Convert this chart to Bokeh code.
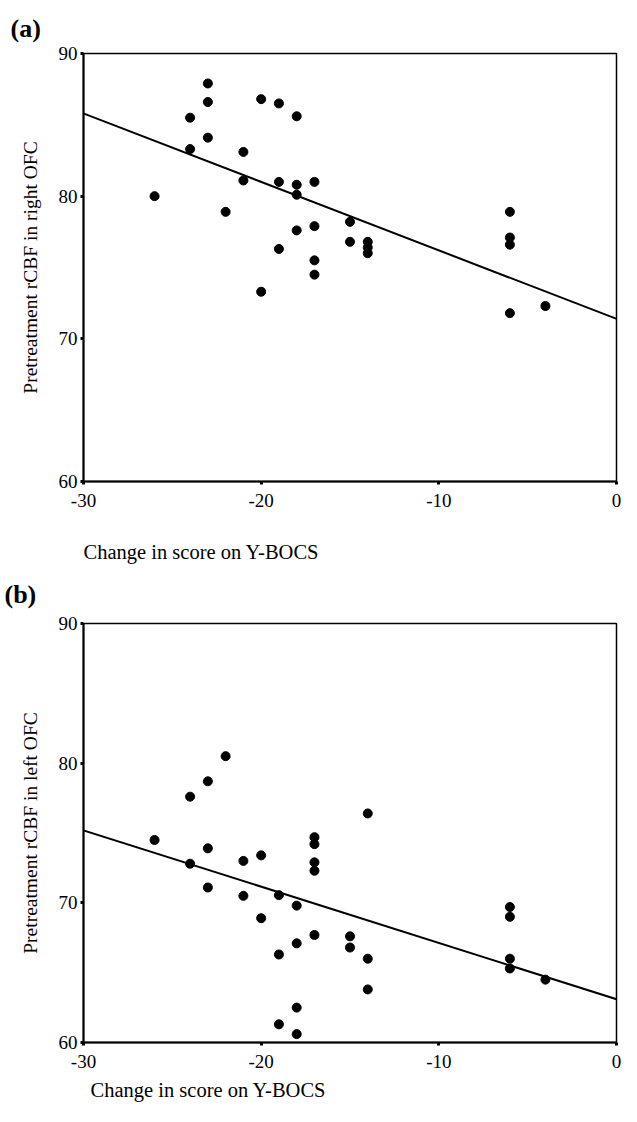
from bokeh.plotting import figure
from bokeh.layouts import column
from bokeh.models import FixedTicker, Slope, Range1d, Title
from bokeh.embed import file_html
from bokeh.resources import INLINE

# ---- data ----
X_TICKS = [-30, -20, -10, 0]
X_TICK_LABELS = ["-30", "-20", "-10", "0"]
Y_TICKS = [60, 70, 80, 90]
Y_TICK_LABELS = ["60", "70", "80", "90"]

A_X = [-26, -24, -24, -23, -23, -23, -22, -21, -21, -20, -20, -19, -19, -19,
       -18, -18, -18, -18, -17, -17, -17, -17, -15, -15, -14, -14, -14,
       -6, -6, -6, -6, -4]
A_Y = [80.0, 85.5, 83.3, 87.9, 86.6, 84.1, 78.9, 83.1, 81.1, 86.8, 73.3, 86.5, 81.0, 76.3,
       85.6, 80.8, 80.1, 77.6, 81.0, 77.9, 75.5, 74.5, 78.2, 76.8, 76.8, 76.4, 76.0,
       78.9, 77.1, 76.6, 71.8, 72.3]
A_FIT_INTERCEPT = 71.4
A_FIT_SLOPE = -0.48

B_X = [-26, -24, -24, -23, -23, -23, -22, -21, -21, -20, -20, -19, -19, -19,
       -18, -18, -18, -18, -17, -17, -17, -17, -17, -15, -15, -14, -14, -14,
       -6, -6, -6, -6, -4]
B_Y = [74.5, 77.6, 72.8, 78.7, 73.9, 71.1, 80.5, 73.0, 70.5, 73.4, 68.9, 70.55, 66.3, 61.3,
       69.8, 67.1, 62.5, 60.6, 74.7, 74.2, 72.9, 72.3, 67.7, 67.6, 66.8, 76.4, 66.0, 63.8,
       69.7, 69.0, 66.0, 65.3, 64.5]
B_FIT_INTERCEPT = 63.1
B_FIT_SLOPE = -0.403

X_LABEL = "Change in score on Y-BOCS"
A_Y_LABEL = "Pretreatment rCBF in right OFC"
B_Y_LABEL = "Pretreatment rCBF in left OFC"

FONT = "Liberation Serif"


def make_title(text, size, style, offset, standoff):
    return Title(text=text, align="left", offset=offset, standoff=standoff,
                 text_font=FONT, text_font_size=size, text_font_style=style,
                 text_color="black")


def make_panel(xs, ys, intercept, slope, ylabel, width, height, borders,
               above_titles, below_titles):
    bt, bb, bl, br = borders
    p = figure(width=width, height=height, output_backend="svg", toolbar_location=None,
               x_range=Range1d(-30, 0), y_range=Range1d(60, 90),
               min_border_top=bt, min_border_bottom=bb, min_border_left=bl,
               min_border_right=br, background_fill_color="white",
               border_fill_color="white")
    p.grid.visible = False
    p.outline_line_color = "black"
    p.outline_line_width = 1.5
    p.outline_line_alpha = 1.0

    for ax, ticks, labels in ((p.xaxis[0], X_TICKS, X_TICK_LABELS),
                              (p.yaxis[0], Y_TICKS, Y_TICK_LABELS)):
        ax.ticker = FixedTicker(ticks=ticks)
        ax.major_label_overrides = {t: l for t, l in zip(ticks, labels)}
        ax.axis_line_width = 2
        ax.axis_line_color = "black"
        ax.major_tick_in = 0
        ax.major_tick_out = 3
        ax.major_tick_line_width = 3
        ax.minor_tick_line_color = None
        ax.major_label_text_font = FONT
        ax.major_label_text_font_size = "19px"
        ax.major_label_text_color = "black"

    p.xaxis.major_label_standoff = 9
    p.yaxis.major_label_standoff = 3
    p.yaxis.axis_label = ylabel
    p.yaxis.axis_label_text_font = FONT
    p.yaxis.axis_label_text_font_style = "normal"
    p.yaxis.axis_label_text_font_size = "19.5px"
    p.yaxis.axis_label_text_color = "black"
    p.yaxis.axis_label_standoff = 15

    p.add_layout(Slope(gradient=slope, y_intercept=intercept, line_color="black",
                       line_width=2))
    p.scatter(xs, ys, size=9, color="black")

    # first title added is the one closest to the frame
    for t in above_titles:
        p.add_layout(make_title(*t), "above")
    for t in below_titles:
        p.add_layout(make_title(*t), "below")
    return p


# panel (a): its x-axis caption is drawn in the gap above panel (b)
pa = make_panel(A_X, A_Y, A_FIT_INTERCEPT, A_FIT_SLOPE, A_Y_LABEL,
                629, 537, (53, 56, 77, 8),
                [("(a)", "26px", "bold", -73, 22)], [])
pb = make_panel(B_X, B_Y, B_FIT_INTERCEPT, B_FIT_SLOPE, B_Y_LABEL,
                629, 576, (86, 71, 83, 13),
                [("(b)", "26px", "bold", -79, 30),
                 (X_LABEL, "20.5px", "normal", 0, 0)],
                [(X_LABEL, "20.5px", "normal", 7, 12)])

layout = column(pa, pb, spacing=0)
open("out.html", "w").write(file_html(layout, INLINE))
